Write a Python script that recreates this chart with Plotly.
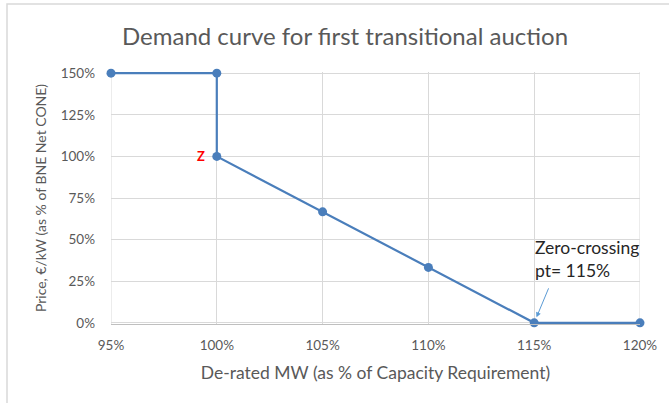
import plotly.graph_objects as go

x_pct = [95, 100, 100, 105, 110, 115, 120]
price_pct = [150, 150, 100, 66.7, 33.3, 0, 0]
x_ticks = [95, 100, 105, 110, 115, 120]
y_ticks = [0, 25, 50, 75, 100, 125, 150]

title = "Demand curve for first transitional auction"
x_title = "De-rated MW (as % of Capacity Requirement)"
y_title = "Price, €/kW (as % of BNE Net CONE)"

FONT = "Lato, 'Open Sans', sans-serif"
GREY = "#595959"
BLUE = "#4A7EBB"

W, H = 669, 403
L, R, T, B = 111, 29, 72, 79

fig = go.Figure()
fig.add_trace(go.Scatter(
    x=x_pct, y=price_pct, mode="lines+markers",
    line=dict(color=BLUE, width=2.2),
    marker=dict(color=BLUE, size=9),
    cliponaxis=False,
    hoverinfo="skip", showlegend=False,
))

fig.add_annotation(x=x_pct[2], y=price_pct[2], text="<b>Z</b>", showarrow=False,
                   xanchor="right", xshift=-10, yshift=0,
                   font=dict(color="red", size=13, family=FONT))

# arrow pointing to the zero-crossing point
fig.add_annotation(x=x_pct[5], y=price_pct[5], text="",
                   showarrow=True, arrowhead=2, arrowsize=1, arrowwidth=1,
                   arrowcolor="#5B9BD5", ax=15, ay=-36, standoff=6)
fig.add_annotation(x=x_pct[5], y=price_pct[5], text="Zero-crossing<br>pt= 115%",
                   showarrow=False, xanchor="left", yanchor="bottom",
                   xshift=-1, yshift=40, align="left",
                   font=dict(color="#262626", size=17.5, family=FONT))

pw, ph = W - L - R, H - T - B
fig.add_shape(type="rect", xref="paper", yref="paper",
              x0=(7 - L) / pw, x1=(W + 20 - L) / pw,
              y0=-(B + 20) / ph, y1=1 + (T - 4) / ph,
              line=dict(color="#D9D9D9", width=1.5))

fig.add_shape(type="line", xref="x", yref="paper", x0=95, x1=95, y0=0, y1=1,
              line=dict(color="#D9D9D9", width=1), layer="below")
fig.add_shape(type="line", xref="x", yref="paper", x0=120, x1=120, y0=0, y1=1,
              line=dict(color="#D9D9D9", width=1), layer="below")

fig.update_layout(
    width=W, height=H,
    margin=dict(l=L, r=R, t=T, b=B, autoexpand=False),
    paper_bgcolor="white", plot_bgcolor="white",
    font=dict(family=FONT, color=GREY, size=13),
    title=dict(text=title, x=345 / W, xanchor="center",
               y=1 - 37 / H, yanchor="middle",
               font=dict(size=24, color=GREY, family=FONT)),
    xaxis=dict(range=[95, 120], tickvals=x_ticks,
               ticktext=[f"{v}%" for v in x_ticks],
               showgrid=True, gridcolor="#D9D9D9", gridwidth=1,
               zeroline=False, showline=True, linecolor="#BFBFBF",
               ticks="", ticklabelstandoff=9, automargin=False,
               title=dict(text=x_title, font=dict(size=17.5, color=GREY), standoff=14),
               tickfont=dict(size=13.5, color=GREY)),
    yaxis=dict(range=[-0.7, 150.7], tickvals=y_ticks,
               ticktext=[f"{v}%" for v in y_ticks],
               showgrid=True, gridcolor="#D9D9D9", gridwidth=1,
               zeroline=False, showline=False, automargin=False,
               ticks="", ticklabelstandoff=15,
               title=dict(text=y_title, font=dict(size=14, color=GREY), standoff=10),
               tickfont=dict(size=13.5, color=GREY)),
)

fig.write_html("out.html",
               config={"displayModeBar": False},
               post_script="document.body.style.margin='0';document.body.style.overflow='hidden';")
